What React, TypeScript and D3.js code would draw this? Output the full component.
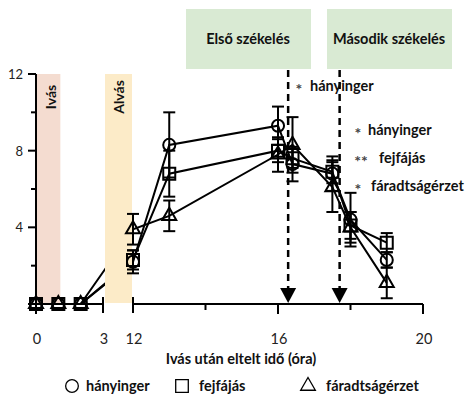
import React, { useEffect, useRef } from 'react';
import * as d3 from 'd3';

// time points (hours after drinking)
const times = [0, 1, 2, 12, 13, 16, 16.4, 17.5, 18, 19];

// symptom scores
const nausea = [0, 0, 0, 2.2, 8.3, 9.3, 7.3, 6.8, 4.4, 2.3];
const nauseaErr = [0, 0, 0, 0.6, 1.7, 1.0, 0.9, 0.9, 1.4, 0.4];
const headache = [0, 0, 0, 2.3, 6.8, 8.0, 7.6, 6.9, 4.1, 3.2];
const headacheErr = [0, 0, 0, 0.5, 1.2, 0.6, 0.5, 0.6, 0.7, 0.5];
const fatigue = [0, 0, 0, 3.9, 4.6, 7.8, 8.3, 6.1, 4.0, 1.1];
const fatigueErr = [0, 0, 0, 0.8, 0.8, 0.9, 1.45, 1.3, 0.8, 0.8];

const seriesNames = ['hányinger', 'fejfájás', 'fáradtságérzet'];

const yTicks = [4, 8, 12];
const yMinorTicks = [2, 6, 10];
const xTicksA = [0, 3];
const xTicksB = [12, 16, 20];
const xMinorB = [14, 18];

// bowel movements (vertical dashed lines)
const events = [
  { t: 16.28, label: 'Első székelés' },
  { t: 17.7, label: 'Második székelés' }
];

const FONT = "Lato, 'Open Sans', sans-serif";

const App = () => {
  const svgRef = useRef<SVGSVGElement>(null);

  useEffect(() => {
    if (!svgRef.current) return;
    const svg = d3.select(svgRef.current);
    svg.selectAll('*').remove();

    const width = 474;
    const height = 407;
    svg.attr('width', width).attr('height', height);
    svg.append('rect').attr('width', width).attr('height', height).attr('fill', '#fff');

    // broken x axis: two linear pieces
    const xA = d3.scaleLinear().domain([0, 3]).range([36, 103]);
    const xB = d3.scaleLinear().domain([12, 20]).range([133, 423]);
    const x = (t: number) => (t <= 3 ? xA(t) : xB(t));
    const y = d3.scaleLinear().domain([0, 12]).range([304, 74]);

    // Ivás band
    svg.append('rect')
      .attr('x', xA(0) + 1).attr('y', y(12))
      .attr('width', xA(1) - xA(0) + 1).attr('height', y(0) - y(12))
      .attr('fill', '#f4dcd0');

    const series = [
      { name: seriesNames[0], v: nausea, e: nauseaErr, sym: d3.symbolCircle, size: 115 },
      { name: seriesNames[1], v: headache, e: headacheErr, sym: d3.symbolSquare, size: 144 },
      { name: seriesNames[2], v: fatigue, e: fatigueErr, sym: d3.symbolTriangle, size: 85 }
    ];

    const line = d3.line<number>()
      .x((d, i) => x(times[i]))
      .y(d => y(d));

    series.forEach(s => {
      svg.append('path')
        .attr('d', line(s.v))
        .attr('fill', 'none')
        .attr('stroke', '#000')
        .attr('stroke-width', 2);
    });

    // Alvás band (hides the segment across the break)
    svg.append('rect')
      .attr('x', 105).attr('y', y(12))
      .attr('width', 27).attr('height', y(0) - y(12) - 1)
      .attr('fill', '#fcebc8');

    // rotated band labels
    [{ x: 51, t: 'Ivás' }, { x: 119, t: 'Alvás' }].forEach(b => {
      svg.append('text')
        .attr('transform', `translate(${b.x + 5}, 97) rotate(-90)`)
        .attr('text-anchor', 'middle')
        .attr('font-family', FONT)
        .attr('font-weight', 'bold')
        .attr('font-size', '14px')
        .attr('fill', '#111')
        .text(b.t);
    });

    // y axis
    svg.append('line')
      .attr('x1', 36).attr('x2', 36).attr('y1', y(12)).attr('y2', y(0) + 10)
      .attr('stroke', '#000').attr('stroke-width', 2);
    yTicks.forEach(t => {
      svg.append('line')
        .attr('x1', 28).attr('x2', 36).attr('y1', y(t)).attr('y2', y(t))
        .attr('stroke', '#000').attr('stroke-width', 2);
      svg.append('text')
        .attr('x', 23).attr('y', y(t) + 5)
        .attr('text-anchor', 'end')
        .attr('font-family', FONT).attr('font-size', '13px').attr('fill', '#222')
        .text(t);
    });
    yMinorTicks.forEach(t => {
      svg.append('line')
        .attr('x1', 31).attr('x2', 36).attr('y1', y(t)).attr('y2', y(t))
        .attr('stroke', '#000').attr('stroke-width', 2);
    });

    // x axis, two segments
    svg.append('line')
      .attr('x1', 28).attr('x2', xA(3)).attr('y1', y(0)).attr('y2', y(0))
      .attr('stroke', '#000').attr('stroke-width', 2);
    svg.append('line')
      .attr('x1', xB(12)).attr('x2', xB(20)).attr('y1', y(0)).attr('y2', y(0))
      .attr('stroke', '#000').attr('stroke-width', 2);
    // break ends
    [xA(3), xB(12)].forEach(px => {
      svg.append('line')
        .attr('x1', px).attr('x2', px).attr('y1', y(0) - 7).attr('y2', y(0) + 9)
        .attr('stroke', '#000').attr('stroke-width', 2);
    });
    [xB(16), xB(20)].forEach(px => {
      svg.append('line')
        .attr('x1', px).attr('x2', px).attr('y1', y(0)).attr('y2', y(0) + 10)
        .attr('stroke', '#000').attr('stroke-width', 2);
    });
    xMinorB.forEach(t => {
      svg.append('line')
        .attr('x1', xB(t)).attr('x2', xB(t)).attr('y1', y(0)).attr('y2', y(0) + 6)
        .attr('stroke', '#000').attr('stroke-width', 2);
    });
    [...xTicksA.map(t => ({ t, px: xA(t) })), ...xTicksB.map(t => ({ t, px: xB(t) }))].forEach(d => {
      svg.append('text')
        .attr('x', d.px + 1).attr('y', 344)
        .attr('text-anchor', 'middle')
        .attr('font-family', FONT).attr('font-size', '14.5px').attr('fill', '#222')
        .text(d.t);
    });

    svg.append('text')
      .attr('x', 241).attr('y', 364)
      .attr('text-anchor', 'middle')
      .attr('font-family', FONT).attr('font-weight', 'bold').attr('font-size', '14.5px')
      .attr('fill', '#111')
      .text('Ivás után eltelt idő (óra)');

    // defecation markers
    events.forEach((ev, i) => {
      const px = xB(ev.t);
      const bx = i === 0 ? 186 : 327;
      svg.append('rect')
        .attr('x', bx).attr('y', 9).attr('width', 125).attr('height', 60)
        .attr('fill', '#d9ead3');
      svg.append('text')
        .attr('x', bx + 62).attr('y', 44)
        .attr('text-anchor', 'middle')
        .attr('font-family', FONT).attr('font-weight', 'bold').attr('font-size', '14.5px')
        .attr('fill', '#111')
        .text(ev.label);
      svg.append('line')
        .attr('x1', px).attr('x2', px).attr('y1', 70).attr('y2', 290)
        .attr('stroke', '#000').attr('stroke-width', 2.5)
        .attr('stroke-dasharray', '7,5');
      svg.append('path')
        .attr('d', `M${px - 8},288 L${px + 8},288 L${px},303 Z`)
        .attr('fill', '#000');
    });

    // error bars
    series.forEach(s => {
      s.v.forEach((v, i) => {
        const e = s.e[i];
        if (!e) return;
        const px = x(times[i]);
        svg.append('line')
          .attr('x1', px).attr('x2', px).attr('y1', y(v - e)).attr('y2', y(v + e))
          .attr('stroke', '#000').attr('stroke-width', 2);
        [v - e, v + e].forEach(w => {
          svg.append('line')
            .attr('x1', px - 6).attr('x2', px + 6).attr('y1', y(w)).attr('y2', y(w))
            .attr('stroke', '#000').attr('stroke-width', 2);
        });
      });
    });

    // markers
    series.forEach(s => {
      const sym = d3.symbol().type(s.sym).size(s.size);
      s.v.forEach((v, i) => {
        svg.append('path')
          .attr('d', sym())
          .attr('transform', `translate(${x(times[i])}, ${y(v)})`)
          .attr('fill', 'none')
          .attr('stroke', '#000')
          .attr('stroke-width', 2);
      });
    });

    // significance notes
    const notes = [
      { x: 299, y: 91, star: '*', t: 'hányinger', tx: 310 },
      { x: 358, y: 135, star: '*', t: 'hányinger', tx: 368 },
      { x: 361, y: 163, star: '**', t: 'fejfájás', tx: 379 },
      { x: 358, y: 191, star: '*', t: 'fáradtságérzet', tx: 371 }
    ];
    notes.forEach(n => {
      svg.append('text')
        .attr('x', n.x).attr('y', n.y + 4)
        .attr('text-anchor', 'middle')
        .attr('font-family', FONT).attr('font-weight', 'bold').attr('font-size', '16px')
        .attr('fill', '#444')
        .text(n.star);
      svg.append('text')
        .attr('x', n.tx).attr('y', n.y)
        .attr('font-family', FONT).attr('font-weight', 'bold').attr('font-size', '14.5px')
        .attr('fill', '#111')
        .text(n.t);
    });

    // legend
    const legend = [
      { sx: 72, tx: 86 },
      { sx: 182, tx: 199 },
      { sx: 308, tx: 326 }
    ];
    series.forEach((s, i) => {
      const sym = d3.symbol().type(s.sym).size(s.size * 1.1);
      svg.append('path')
        .attr('d', sym())
        .attr('transform', `translate(${legend[i].sx}, 386)`)
        .attr('fill', 'none').attr('stroke', '#000').attr('stroke-width', 1.3);
      svg.append('text')
        .attr('x', legend[i].tx).attr('y', 391)
        .attr('font-family', FONT).attr('font-weight', 'bold').attr('font-size', '14.5px')
        .attr('fill', '#111')
        .text(s.name);
    });
  }, []);

  return (
    <svg ref={svgRef} style={{ position: 'absolute', left: 0, top: 0 }}></svg>
  );
};

export default App;
